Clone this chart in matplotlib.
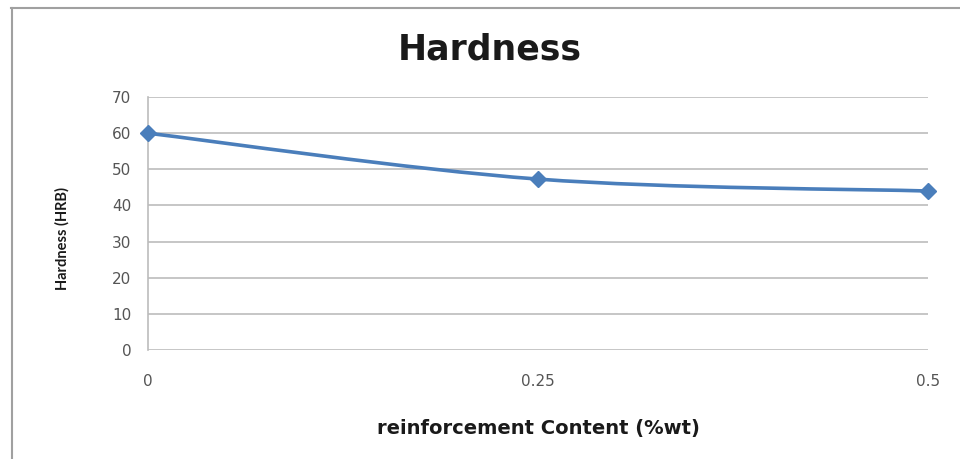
import matplotlib.pyplot as plt
from matplotlib.path import Path
from matplotlib.patches import PathPatch
from matplotlib.lines import Line2D

# hardness vs reinforcement content
content = [0, 0.25, 0.5]
hardness = [60, 47.3, 44]
y_ticks = [0, 10, 20, 30, 40, 50, 60, 70]
x_ticks = [0, 0.25, 0.5]
x_tick_labels = ["0", "0.25", "0.5"]

line_color = "#4A7EBB"
text_color = "#555555"
plt.rcParams["font.family"] = ["DejaVu Sans"]


def smooth_path(xs, ys):
    # spreadsheet-style smoothed line: cubic bezier with 1/6 tangents
    pts = list(zip(xs, ys))
    verts = [pts[0]]
    codes = [Path.MOVETO]
    n = len(pts)
    for i in range(n - 1):
        p_prev = pts[max(i - 1, 0)]
        p0 = pts[i]
        p1 = pts[i + 1]
        p_next = pts[min(i + 2, n - 1)]
        c1 = (p0[0] + (p1[0] - p_prev[0]) / 6, p0[1] + (p1[1] - p_prev[1]) / 6)
        c2 = (p1[0] - (p_next[0] - p0[0]) / 6, p1[1] - (p_next[1] - p0[1]) / 6)
        verts += [c1, c2, p1]
        codes += [Path.CURVE4] * 3
    return Path(verts, codes)


fig = plt.figure(figsize=(9.6, 4.59), dpi=100)

# outer frame (left and top edges)
fig.add_artist(Line2D([0.012, 0.012], [0, 0.983], color="#a0a0a0", lw=1.5))
fig.add_artist(Line2D([0.011, 1.0], [0.983, 0.983], color="#a0a0a0", lw=1.5))

ax = fig.add_axes([0.1542, 0.2375, 0.8125, 0.551])
ax.set_xlim(0, 0.5)
ax.set_ylim(0, 70)

ax.add_patch(
    PathPatch(
        smooth_path(content, hardness),
        facecolor="none",
        edgecolor=line_color,
        lw=2.6,
        clip_on=False,
        zorder=3,
    )
)
ax.plot(
    content,
    hardness,
    linestyle="none",
    marker="D",
    markersize=8,
    color=line_color,
    clip_on=False,
    zorder=4,
)

ax.set_yticks(y_ticks)
ax.set_xticks(x_ticks)
ax.set_xticklabels(x_tick_labels)
ax.yaxis.grid(True, color="#bcbcbc", lw=1.2)
ax.set_axisbelow(True)
for side in ["top", "right", "bottom"]:
    ax.spines[side].set_visible(False)
ax.spines["left"].set_color("#bcbcbc")
ax.spines["left"].set_linewidth(1.2)
ax.tick_params(axis="y", length=0, pad=12, labelsize=11, labelcolor=text_color)
ax.tick_params(axis="x", length=0, pad=17, labelsize=11, labelcolor=text_color)

# chart title sits a little left of the plot centre
fig.text(0.51, 0.893, "Hardness", fontsize=25, fontweight="bold", color="#1a1a1a",
         ha="center", va="center")
ax.set_xlabel("reinforcement Content (%wt)", fontsize=14, fontweight="bold",
              color="#1a1a1a")
ax.xaxis.set_label_coords(0.5, -0.273)
ax.set_ylabel("Hardness (HRB)", fontsize=10.5, fontweight="bold", color="#1a1a1a",
              family=["Lato", "DejaVu Sans"])
ax.yaxis.set_label_coords(-0.101, 0.439)

fig.savefig("out.png", dpi=100, facecolor="white")
